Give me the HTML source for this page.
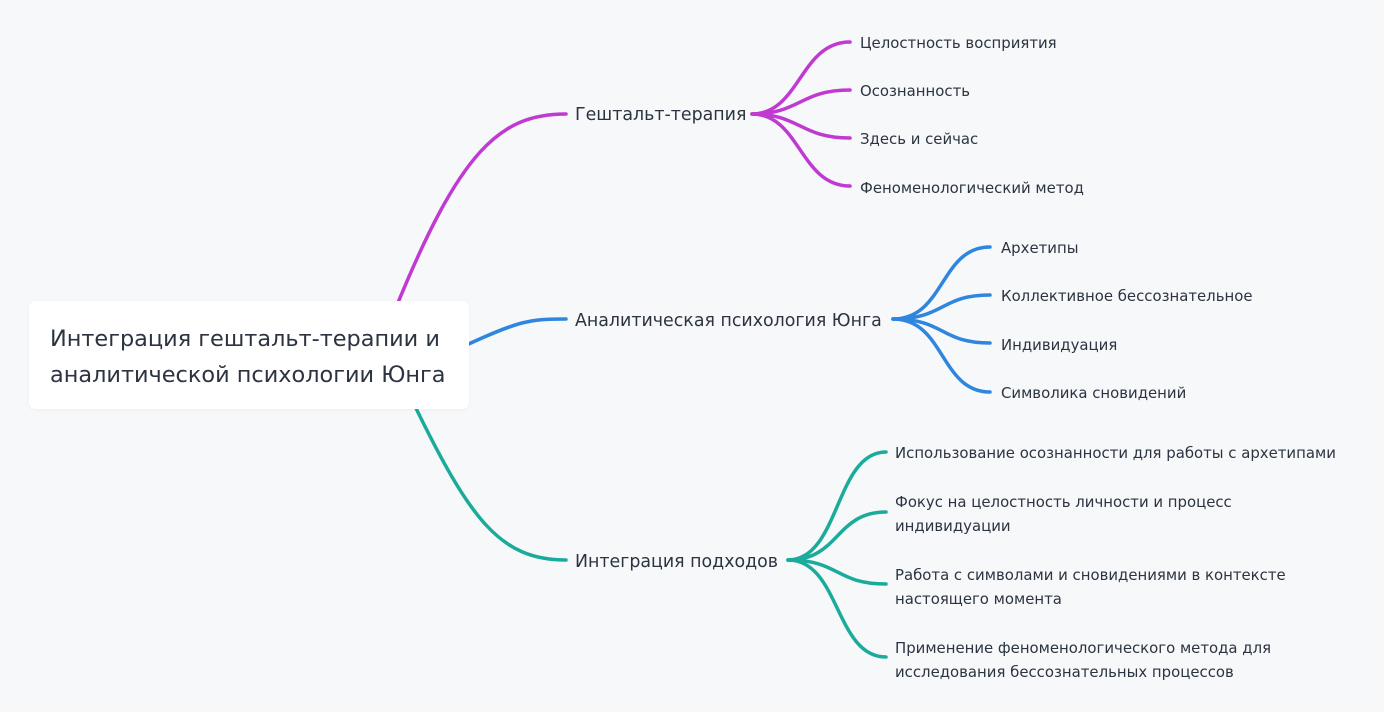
<!DOCTYPE html>
<html><head><meta charset="utf-8"><style>
body{margin:0;width:1384px;height:712px;background:#f7f8fa;font-family:"DejaVu Sans","Liberation Sans",sans-serif;color:#2b3440;position:relative;overflow:hidden}
.t{position:absolute;white-space:nowrap}
.b{font-size:17.4px;line-height:22px}
.l{font-size:14.9px;line-height:24px}
#root{position:absolute;left:29px;top:301px;width:440px;height:108px;background:#fff;border-radius:7px;box-shadow:0 1px 4px rgba(0,0,0,0.04);font-size:22.4px;line-height:36px;padding:20px 0 0 21px;box-sizing:border-box}
</style></head><body>
<svg width="1384" height="712" style="position:absolute;left:0;top:0" fill="none" stroke-width="3.5" stroke-linecap="round">
<g stroke="#c03ad1">
<path d="M395 310 C460 150 500 114 566 114"/>
<path d="M752 114 C800 114 800 42 850 42"/>
<path d="M752 114 C800 114 800 90 850 90"/>
<path d="M752 114 C800 114 800 138 850 138"/>
<path d="M752 114 C800 114 800 186 850 186"/>
</g>
<g stroke="#2e86de">
<path d="M460 348 C520 320 530 319 566 319"/>
<path d="M893 319 C945 319 940 247 990 247"/>
<path d="M893 319 C945 319 940 295 990 295"/>
<path d="M893 319 C945 319 940 343 990 343"/>
<path d="M893 319 C945 319 940 392 990 392"/>
</g>
<g stroke="#1aab9b">
<path d="M412 400 C470 520 500 560 566 560"/>
<path d="M788 560 C840 560 835 452 886 452"/>
<path d="M788 560 C840 560 835 512 886 512"/>
<path d="M788 560 C840 560 835 584 886 584"/>
<path d="M788 560 C840 560 835 657 886 657"/>
</g>
</svg>
<div id="root">Интеграция гештальт-терапии и<br>аналитической психологии Юнга</div>
<div class="t b" style="left:575px;top:104px">Гештальт-терапия</div>
<div class="t b" style="left:575px;top:310px">Аналитическая психология Юнга</div>
<div class="t b" style="left:575px;top:551px">Интеграция подходов</div>
<div class="t l" style="left:860px;top:31px">Целостность восприятия</div>
<div class="t l" style="left:860px;top:79px">Осознанность</div>
<div class="t l" style="left:860px;top:127px">Здесь и сейчас</div>
<div class="t l" style="left:860px;top:176px">Феноменологический метод</div>
<div class="t l" style="left:1001px;top:236px">Архетипы</div>
<div class="t l" style="left:1001px;top:284px">Коллективное бессознательное</div>
<div class="t l" style="left:1001px;top:333px">Индивидуация</div>
<div class="t l" style="left:1001px;top:381px">Символика сновидений</div>
<div class="t l" style="left:895px;top:441px">Использование осознанности для работы с архетипами</div>
<div class="t l" style="left:895px;top:490px">Фокус на целостность личности и процесс<br>индивидуации</div>
<div class="t l" style="left:895px;top:563px">Работа с символами и сновидениями в контексте<br>настоящего момента</div>
<div class="t l" style="left:895px;top:636px">Применение феноменологического метода для<br>исследования бессознательных процессов</div>
</body></html>
